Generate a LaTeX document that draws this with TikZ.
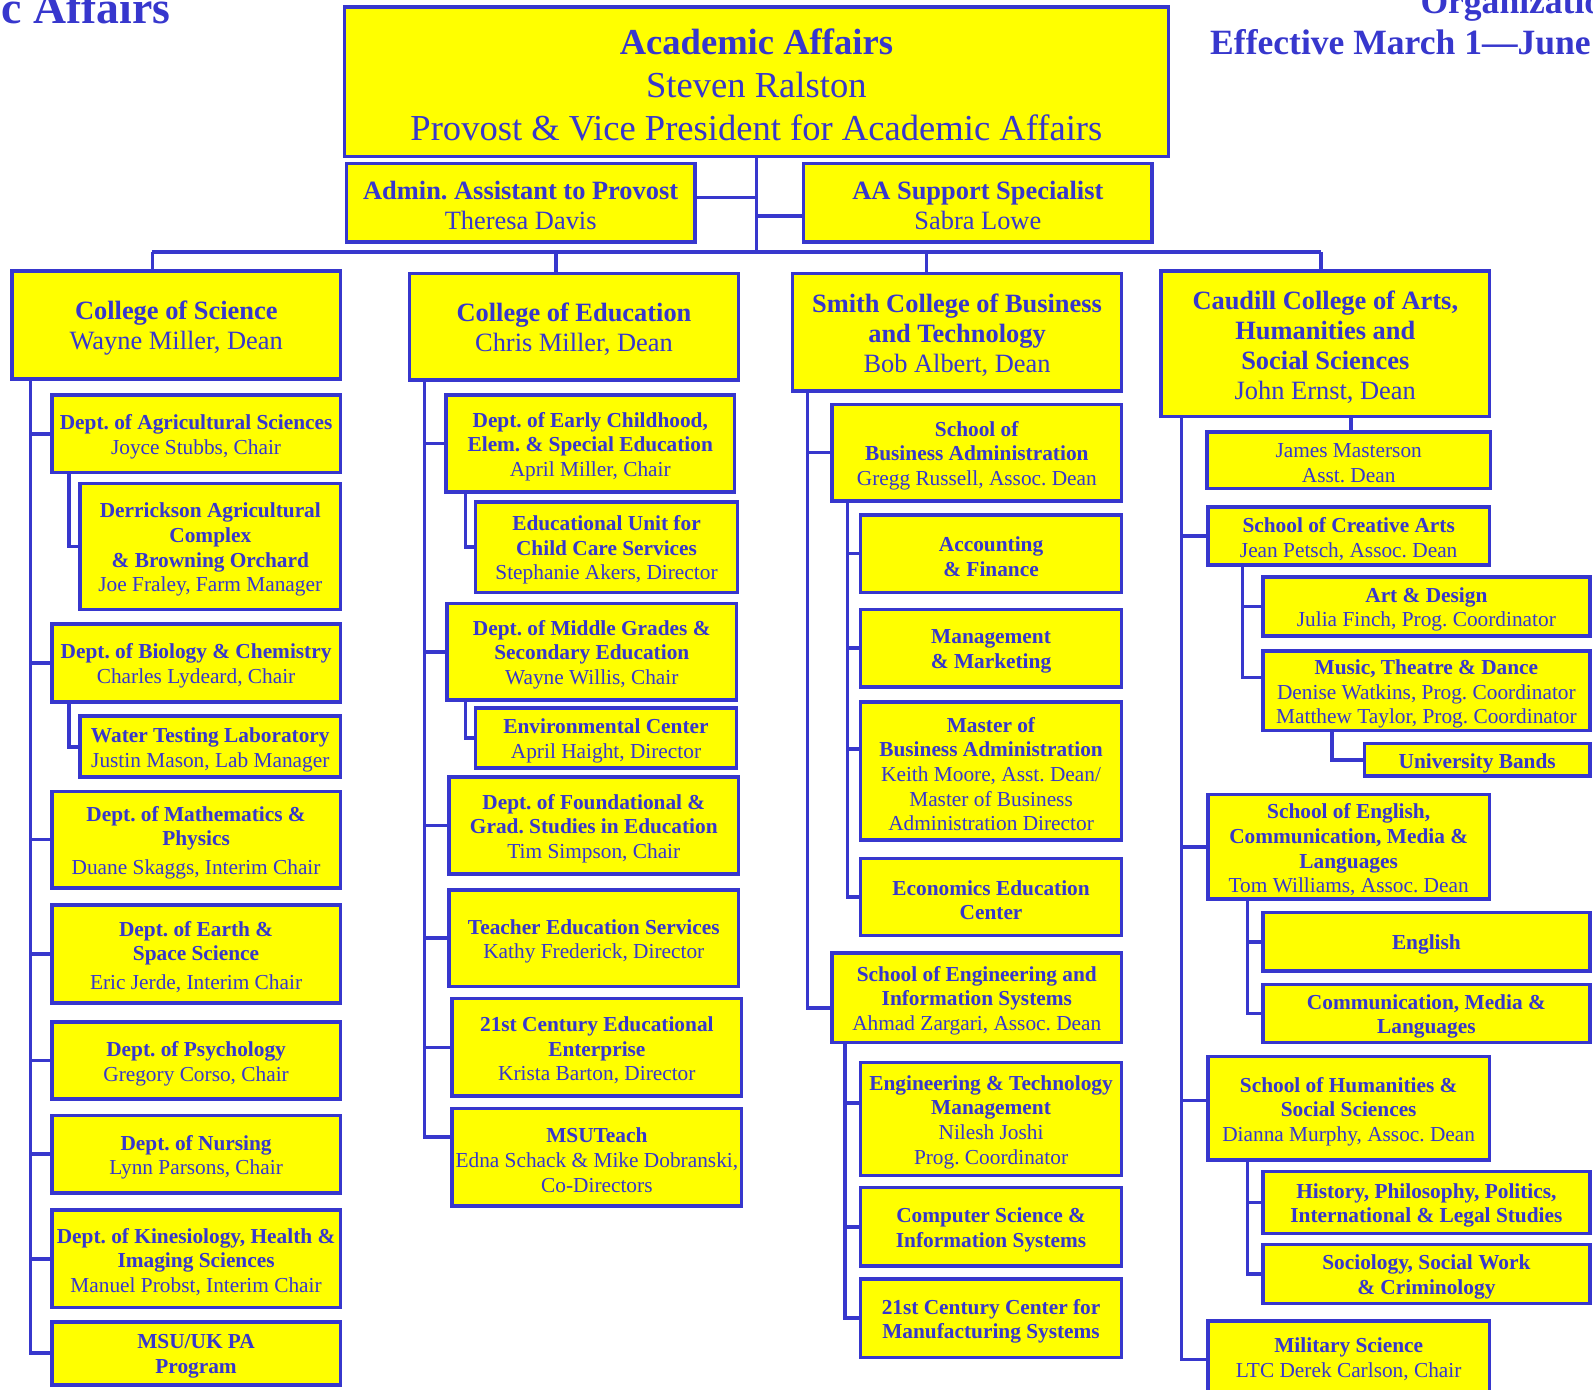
\documentclass[tikz,border=0pt]{standalone}
\usepackage{fontspec}
\setmainfont{Liberation Serif}
\frenchspacing
\definecolor{ab}{RGB}{55,55,205}
\definecolor{yl}{RGB}{255,255,0}
\newcommand\fT{\fontsize{36}{42}\selectfont}
\newcommand\fC{\fontsize{26}{29.5}\selectfont}
\newcommand\fS{\fontsize{21}{24.2}\selectfont}
\newcommand\B[1]{\textbf{#1}}
\newcommand\bx[7]{\node[box,minimum width={#4-#2},minimum height={#5-#3}] (#1) at ({(#2+#4)/2},{(#3+#5)/2}) {};
 \node[btext,font=#7] (#1-t) at ([yshift=-3pt]#1.center) {#6};}
\begin{document}
\begin{tikzpicture}[x=1pt,y=-1pt,
 box/.style={draw=ab, fill=yl, line width=3.5pt, inner sep=0pt},
 btext/.style={align=center, inner sep=0pt, text=ab},
 conn/.style={draw=ab, line width=3.5pt},
 head/.style={text=ab, inner sep=0pt, font=\fontsize{35}{40}\selectfont\bfseries}]
\useasboundingbox (0,0) rectangle (1568,1368);
\clip (0,0) rectangle (1568,1368);

% headers
\node[head, anchor=base east, font=\fontsize{45}{50}\selectfont\bfseries] (h1) at (168,23) {c Affairs};
\node[head, anchor=base west] (h2) at (1398,13) {Organizatio};
\node[head, anchor=base west] (h3) at (1191,54) {Effective March 1—June};

% top
\bx{top}{339}{7}{1150}{154}{\B{Academic Affairs}\\Steven Ralston\\Provost \& Vice President for Academic Affairs}{\fT}
\bx{admin}{341}{161}{684}{238}{\B{Admin. Assistant to Provost}\\Theresa Davis}{\fC}
\bx{aa}{791}{161}{1134}{238}{\B{AA Support Specialist}\\Sabra Lowe}{\fC}

% colleges
\bx{cos}{12}{267}{335}{373}{\B{College of Science}\\Wayne Miller, Dean}{\fC}
\bx{coe}{403}{269}{727}{374}{\B{College of Education}\\Chris Miller, Dean}{\fC}
\bx{smith}{780}{269}{1104}{385}{\B{Smith College of Business}\\\B{and Technology}\\Bob Albert, Dean}{\fC}
\bx{caud}{1143}{267}{1466}{410}{\B{Caudill College of Arts,}\\\B{Humanities and}\\\B{Social Sciences}\\John Ernst, Dean}{\fC}

% College of Science
\bx{agri}{51}{389}{335}{465}{\B{Dept. of Agricultural Sciences}\\Joyce Stubbs, Chair}{\fS}
\bx{derr}{79}{476}{335}{600}{\B{Derrickson Agricultural}\\\B{Complex}\\\B{\& Browning Orchard}\\Joe Fraley, Farm Manager}{\fS}
\bx{bio}{51}{614}{335}{691}{\B{Dept. of Biology \& Chemistry}\\Charles Lydeard, Chair}{\fS}
\bx{water}{79}{705}{335}{765}{\B{Water Testing Laboratory}\\Justin Mason, Lab Manager}{\fS}
\bx{math}{51}{779}{335}{874}{\B{Dept. of Mathematics \&}\\\B{Physics}\\[4pt]Duane Skaggs, Interim Chair}{\fS}
\bx{earth}{51}{891}{335}{987}{\B{Dept. of Earth \&}\\\B{Space Science}\\[4pt]Eric Jerde, Interim Chair}{\fS}
\bx{psych}{51}{1006}{335}{1082}{\B{Dept. of Psychology}\\Gregory Corso, Chair}{\fS}
\bx{nurs}{51}{1098}{335}{1174}{\B{Dept. of Nursing}\\Lynn Parsons, Chair}{\fS}
\bx{kin}{51}{1191}{335}{1287}{\B{Dept. of Kinesiology, Health \&}\\\B{Imaging Sciences}\\Manuel Probst, Interim Chair}{\fS}
\bx{msuuk}{51}{1301}{335}{1363}{\B{MSU/UK PA}\\\B{Program}}{\fS}

% College of Education
\bx{early}{439}{389}{723}{484}{\B{Dept. of Early Childhood,}\\\B{Elem. \& Special Education}\\April Miller, Chair}{\fS}
\bx{eunit}{468}{494}{726}{583}{\B{Educational Unit for}\\\B{Child Care Services}\\Stephanie Akers, Director}{\fS}
\bx{middle}{440}{594}{725}{689}{\B{Dept. of Middle Grades \&}\\\B{Secondary Education}\\Wayne Willis, Chair}{\fS}
\bx{env}{468}{697}{725}{756}{\B{Environmental Center}\\April Haight, Director}{\fS}
\bx{found}{442}{765}{727}{860}{\B{Dept. of Foundational \&}\\\B{Grad. Studies in Education}\\Tim Simpson, Chair}{\fS}
\bx{teach}{442}{876}{727}{971}{\B{Teacher Education Services}\\Kathy Frederick, Director}{\fS}
\bx{cedu}{445}{983}{730}{1079}{\B{21st Century Educational}\\\B{Enterprise}\\Krista Barton, Director}{\fS}
\bx{msut}{445}{1091}{730}{1187}{\B{MSUTeach}\\Edna Schack \& Mike Dobranski,\\Co-Directors}{\fS}

% Smith College
\bx{sba}{819}{398}{1104}{493}{\B{School of}\\\B{Business Administration}\\Gregg Russell, Assoc. Dean}{\fS}
\bx{acct}{847}{507}{1104}{583}{\B{Accounting}\\\B{\& Finance}}{\fS}
\bx{mgmt}{847}{600}{1104}{676}{\B{Management}\\\B{\& Marketing}}{\fS}
\bx{mba}{847}{691}{1104}{827}{\B{Master of}\\\B{Business Administration}\\Keith Moore, Asst. Dean/\\Master of Business\\Administration Director}{\fS}
\bx{econ}{847}{845}{1104}{921}{\B{Economics Education}\\\B{Center}}{\fS}
\bx{soe}{819}{938}{1104}{1026}{\B{School of Engineering and}\\\B{Information Systems}\\Ahmad Zargari, Assoc. Dean}{\fS}
\bx{etm}{847}{1046}{1104}{1157}{\B{Engineering \& Technology}\\\B{Management}\\Nilesh Joshi\\Prog. Coordinator}{\fS}
\bx{cs}{847}{1169}{1104}{1246}{\B{Computer Science \&}\\\B{Information Systems}}{\fS}
\bx{cman}{847}{1259}{1104}{1336}{\B{21st Century Center for}\\\B{Manufacturing Systems}}{\fS}

% Caudill College
\bx{james}{1188}{425}{1467}{481}{James Masterson\\Asst. Dean}{\fS}
\bx{sca}{1189}{499}{1466}{556}{\B{School of Creative Arts}\\Jean Petsch, Assoc. Dean}{\fS}
\bx{art}{1243}{568}{1565}{626}{\B{Art \& Design}\\Julia Finch, Prog. Coordinator}{\fS}
\bx{music}{1243}{641}{1565}{719}{\B{Music, Theatre \& Dance}\\Denise Watkins, Prog. Coordinator\\Matthew Taylor, Prog. Coordinator}{\fS}
\bx{bands}{1343}{732}{1565}{764}{\B{University Bands}}{\fS}
\bx{seng}{1189}{782}{1466}{885}{\B{School of English,}\\\B{Communication, Media \&}\\\B{Languages}\\Tom Williams, Assoc. Dean}{\fS}
\bx{eng}{1243}{898}{1565}{956}{\B{English}}{\fS}
\bx{comm}{1243}{969}{1565}{1026}{\B{Communication, Media \&}\\\B{Languages}}{\fS}
\bx{hum}{1189}{1040}{1466}{1142}{\B{School of Humanities \&}\\\B{Social Sciences}\\Dianna Murphy, Assoc. Dean}{\fS}
\bx{hist}{1243}{1153}{1565}{1214}{\B{History, Philosophy, Politics,}\\\B{International \& Legal Studies}}{\fS}
\bx{soc}{1243}{1225}{1565}{1283}{\B{Sociology, Social Work}\\\B{\& Criminology}}{\fS}
\node[box,minimum width=277,minimum height=90] (mil) at (1327.5,1345) {};
\node[btext,font=\fS] (mil-t) at (1327.5,1338) {\B{Military Science}\\LTC Derek Carlson, Chair};

% connector coordinates
\coordinate (bus) at (0,248);
\coordinate (d1) at (150,248);
\coordinate (d2) at (547,248);
\coordinate (d3) at (912,248);
\coordinate (d4) at (1300,248);
\coordinate (s1) at (30,0);
\coordinate (s1b) at (68,0);
\coordinate (s2) at (418,0);
\coordinate (s2b) at (458,0);
\coordinate (s3) at (795,0);
\coordinate (s3b) at (834,0);
\coordinate (s3c) at (832,0);
\coordinate (s4) at (1163,0);
\coordinate (jm) at (1330,0);
\coordinate (s4b) at (1223,0);
\coordinate (s4c) at (1311,0);
\coordinate (s4d) at (1228,0);

% top connectors
\draw[conn] (top.south) -- (top.south |- bus);
\draw[conn] ([yshift=5pt]admin.east) -- ([yshift=5pt]admin.east -| top.south);
\draw[conn] ([yshift=-13pt]aa.west) -- ([yshift=-13pt]aa.west -| top.south);
\draw[conn] (d1) -- (d4);
\draw[conn] (d1) -- (d1 |- cos.north);
\draw[conn] (d2) -- (d2 |- coe.north);
\draw[conn] (d3) -- (d3 |- smith.north);
\draw[conn] (d4) -- (d4 |- caud.north);

% College of Science
\draw[conn] (cos.south -| s1) |- (msuuk.west);
\foreach \n in {agri,bio,math,earth,psych,nurs,kin} \draw[conn] (\n.west -| s1) -- (\n.west);
\draw[conn] (agri.south -| s1b) |- (derr.west);
\draw[conn] (bio.south -| s1b) |- (water.west);

% College of Education
\draw[conn] (coe.south -| s2) |- ([yshift=20pt]msut.west);
\foreach \n in {early,middle,found,teach,cedu} \draw[conn] (\n.west -| s2) -- (\n.west);
\draw[conn] (early.south -| s2b) |- (eunit.west);
\draw[conn] (middle.south -| s2b) |- (env.west);

% Smith
\draw[conn] (smith.south -| s3) |- ([yshift=-10pt]soe.west);
\draw[conn] (sba.west -| s3) -- (sba.west);
\draw[conn] (sba.south -| s3b) |- (econ.west);
\draw[conn] (acct.west -| s3b) -- (acct.west);
\draw[conn] (mgmt.west -| s3b) -- (mgmt.west);
\draw[conn] ([yshift=22pt]mba.west -| s3b) -- ([yshift=22pt]mba.west);
\draw[conn] (soe.south -| s3c) |- (cman.west);
\draw[conn] ([yshift=16pt]etm.west -| s3c) -- ([yshift=16pt]etm.west);
\draw[conn] (cs.west -| s3c) -- (cs.west);

% Caudill
\draw[conn] (caud.south -| s4) |- ([yshift=7pt]mil.west);
\draw[conn] (sca.west -| s4) -- (sca.west);
\draw[conn] (seng.west -| s4) -- (seng.west);
\draw[conn] ([yshift=8pt]hum.west -| s4) -- ([yshift=8pt]hum.west);
\draw[conn] (caud.south -| jm) -- (james.north -| jm);
\draw[conn] (sca.south -| s4b) |- ([yshift=13pt]music.west);
\draw[conn] (art.west -| s4b) -- (art.west);
\draw[conn] (music.south -| s4c) |- (bands.west);
\draw[conn] (seng.south -| s4d) |- (comm.west);
\draw[conn] (eng.west -| s4d) -- (eng.west);
\draw[conn] (hum.south -| s4d) |- (soc.west);
\draw[conn] (hist.west -| s4d) -- (hist.west);
\end{tikzpicture}
\end{document}
